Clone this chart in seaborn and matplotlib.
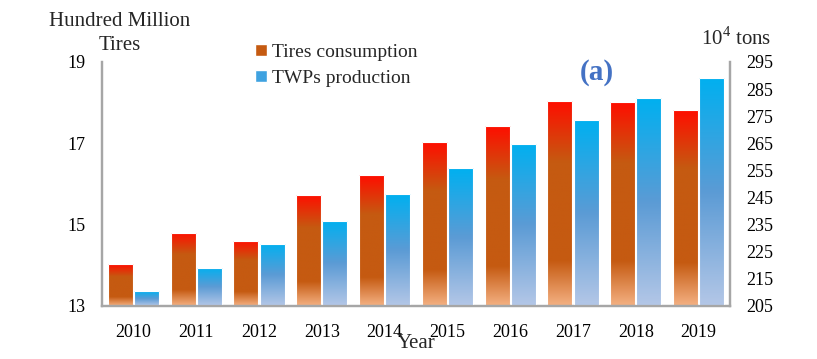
import matplotlib
matplotlib.use("Agg")
import matplotlib.pyplot as plt
from matplotlib.colors import LinearSegmentedColormap
from matplotlib.patches import Patch
import numpy as np
import pandas as pd
import seaborn as sns

years = ["2010", "2011", "2012", "2013", "2014", "2015", "2016", "2017", "2018", "2019"]
tires = [14.03, 14.80, 14.61, 15.74, 16.22, 17.04, 17.43, 18.05, 18.02, 17.82]  # hundred million tires
twps = [210.5, 219.1, 228.0, 236.4, 246.3, 255.9, 264.8, 273.6, 281.7, 289.1]  # 10^4 tons
series = ["Tires consumption", "TWPs production"]

df = pd.DataFrame({
    "Year": years * 2,
    "value": tires + twps,
    "series": [series[0]] * len(years) + [series[1]] * len(years),
})

sns.set_style("white")
plt.rcParams["font.family"] = ["Liberation Serif", "DejaVu Serif"]

fig = plt.figure(figsize=(8.17, 3.59), dpi=100)
ax = fig.add_axes([102 / 817, 53 / 359, 628 / 817, 244 / 359])
ax2 = ax.twinx()

# draw both series on both axes so dodge positions line up, then hide the wrong one
kw = dict(data=df, x="Year", y="value", hue="series", hue_order=series, width=0.83, gap=0.04,
          legend=False, linewidth=0.8, edgecolor="white")
sns.barplot(ax=ax, **kw)
sns.barplot(ax=ax2, **kw)

# gradient fills (bottom -> top)
cm_tires = LinearSegmentedColormap.from_list(
    "t", [(0, "#F4B183"), (0.22, "#C55A11"), (0.7, "#C55A11"), (1, "#FF0D00")])
cm_twps = LinearSegmentedColormap.from_list(
    "w", [(0, "#B4C7E7"), (0.5, "#5B9BD5"), (1, "#00B0F0")])
grad = np.linspace(0, 1, 256).reshape(-1, 1)

for a, cm, lo, hi, keep in [(ax, cm_tires, 13, 19, lambda h: h < 100),
                            (ax2, cm_twps, 205, 295, lambda h: h > 100)]:
    for p in list(a.patches):
        h = p.get_height()
        if np.isnan(h) or h == 0 or not keep(h):
            p.set_visible(False)
            continue
        x0, w = p.get_x(), p.get_width()
        im = a.imshow(grad, cmap=cm, origin="lower", aspect="auto",
                      extent=[x0, x0 + w, lo, h], zorder=1)
        im.set_clip_path(p)
        p.set_facecolor("none")
        p.set_zorder(2)
    a.set_xlim(-0.5, 9.5)
    a.set_ylim(lo, hi)

ax.set_yticks([13, 15, 17, 19])
ax2.set_yticks(np.arange(205, 296, 10))

spine_c = "#A6A6A6"
for a in (ax, ax2):
    a.spines["top"].set_visible(False)
    for s in ("left", "right", "bottom"):
        a.spines[s].set_color(spine_c)
        a.spines[s].set_linewidth(1.6)
    a.set_xlabel("")
    a.set_ylabel("")
    a.tick_params(length=0, labelsize=13, colors="black")
ax.tick_params(axis="y", pad=12)
ax2.tick_params(axis="y", pad=12)
ax.tick_params(axis="x", pad=13)

fig.text(120 / 817, 1 - 21 / 359, "Hundred Million", ha="center", va="center", fontsize=15)
fig.text(120 / 817, 1 - 46 / 359, "Tires", ha="center", va="center", fontsize=15)
fig.text(736 / 817, 1 - 38 / 359, r"10$^{\mathregular{4}}$ tons", ha="center", va="center", fontsize=15)
fig.text(416 / 817, 1 - 344 / 359, "Year", ha="center", va="center", fontsize=15)
fig.text(597 / 817, 1 - 73 / 359, "(a)", ha="center", va="center", fontsize=21,
         fontweight="bold", color="#4472C4")

handles = [Patch(facecolor="#C55A11", edgecolor="white"),
           Patch(facecolor="#3FA2E0", edgecolor="white")]
fig.legend(handles, series, loc="upper left", bbox_to_anchor=(255 / 817, 1 - 44 / 359),
           frameon=False, fontsize=14, handlelength=0.6, handleheight=0.6,
           handletextpad=0.3, labelspacing=0.45, borderaxespad=0, borderpad=0)

fig.savefig("out.png", dpi=100)
